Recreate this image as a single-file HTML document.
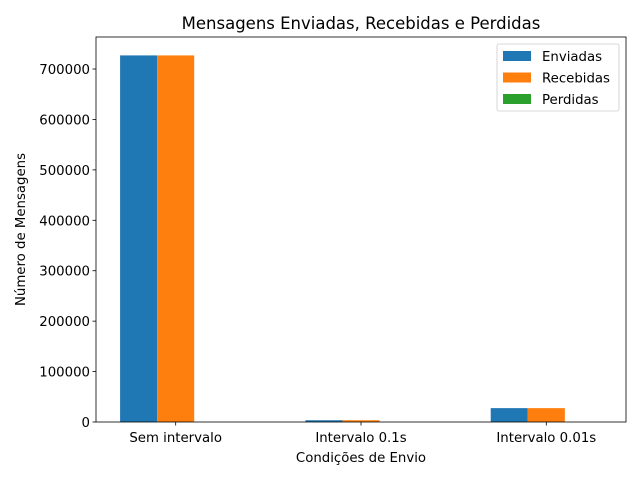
<!DOCTYPE html>
<html><head><meta charset="utf-8"><style>
body{margin:0;background:#fff}
svg{font-family:"DejaVu Sans","Liberation Sans",sans-serif}
</style></head><body>
<svg id="chart" width="640" height="480" xmlns="http://www.w3.org/2000/svg"></svg>
<script>
const categories=["Sem intervalo","Intervalo 0.1s","Intervalo 0.01s"];
const enviadas=[727000,3500,27500];
const recebidas=[727000,3500,27500];
const perdidas=[0,0,0];
const yTicks=[0,100000,200000,300000,400000,500000,600000,700000];
const seriesNames=["Enviadas","Recebidas","Perdidas"];
const colors=["#1f77b4","#ff7f0e","#2ca02c"];
const L=96,R=626,T=37,B=422;
const xmin=-0.43,xmax=2.43,ymax=763500;
const xs=v=>L+(v-xmin)/(xmax-xmin)*(R-L);
const ys=v=>B-v/ymax*(B-T);
const svg=document.getElementById('chart');
const NS="http://www.w3.org/2000/svg";
function mk(tag,attrs,text){const e=document.createElementNS(NS,tag);for(const k in attrs)e.setAttribute(k,attrs[k]);if(text!==undefined)e.textContent=text;svg.appendChild(e);return e;}
const all=[enviadas,recebidas,perdidas];
all.forEach((s,si)=>{s.forEach((v,i)=>{
 const x0=xs(i+(si-1)*0.2-0.1),x1=xs(i+(si-1)*0.2+0.1);
 const r=mk('rect',{x:x0,y:ys(v),width:x1-x0,height:B-ys(v),fill:colors[si]});
 
 
});});
const frame=mk('rect',{x:L,y:T,width:R-L,height:B-T,fill:'none',stroke:'#000','stroke-width':0.8});


yTicks.forEach(t=>{
 mk('line',{x1:L-3.5,x2:L,y1:ys(t),y2:ys(t),stroke:'#000','stroke-width':0.8});
 const tx=mk('text',{x:L-6,y:ys(t)+5,'font-size':13.3,'text-anchor':'end'},t);
 
 
});
categories.forEach((c,i)=>{
 mk('line',{x1:xs(i),x2:xs(i),y1:B,y2:B+3.5,stroke:'#000','stroke-width':0.8});
 const tx=mk('text',{x:xs(i),y:B+20,'font-size':13.3,'text-anchor':'middle'},c);
 
 
});
const xt=mk('text',{x:(L+R)/2,y:462,'font-size':13.3,'text-anchor':'middle'},'Condições de Envio');


const yt=mk('text',{x:0,y:0,'font-size':13.3,'text-anchor':'middle',transform:`translate(25,${(T+B)/2}) rotate(-90)`},'Número de Mensagens');


const ti=mk('text',{x:(L+R)/2,y:29,'font-size':16.5,'text-anchor':'middle'},'Mensagens Enviadas, Recebidas e Perdidas');


const lg=mk('rect',{x:497,y:44,width:122,height:67,fill:'#fff',stroke:'#ccc','stroke-width':0.8,rx:2});


seriesNames.forEach((n,i)=>{
 const y=51+i*21.5;
 mk('rect',{x:503,y:y,width:28,height:10,fill:colors[i]});
 const tx=mk('text',{x:542,y:y+10,'font-size':13.3},n);
 
 
});
</script>
</body></html>
